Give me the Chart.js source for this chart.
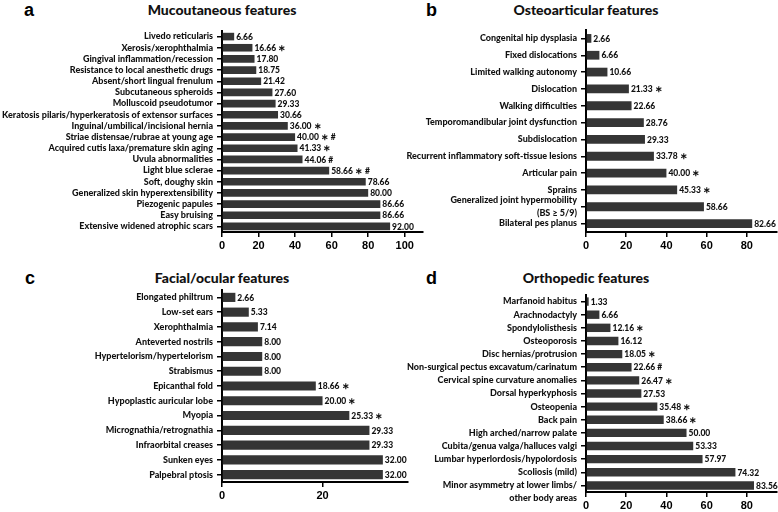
<!DOCTYPE html>
<html>
<head>
<meta charset="utf-8">
<script src="https://cdn.jsdelivr.net/npm/chart.js@4/dist/chart.umd.min.js"></script>
<style>
  body { margin: 0; background: #fff; width: 778px; height: 512px; position: relative; overflow: hidden; }
  canvas { position: absolute; }
  .letter { position: absolute; font: bold 18px "Liberation Sans", Arial, sans-serif; color: #000; line-height: 20px; }
  .title { position: absolute; font: 900 14px Lato, "Liberation Sans", Arial, sans-serif; color: #111; line-height: 16px; text-align: center; width: 240px; }
</style>
</head>
<body>
<div class="letter" style="left:24px;top:0px">a</div>
<div class="title" style="left:102px;top:2px">Mucoutaneous features</div>
<div class="letter" style="left:426px;top:0px">b</div>
<div class="title" style="left:466px;top:2px">Osteoarticular features</div>
<div class="letter" style="left:25px;top:268px">c</div>
<div class="title" style="left:102px;top:270px">Facial/ocular features</div>
<div class="letter" style="left:426px;top:268px">d</div>
<div class="title" style="left:466px;top:270px">Orthopedic features</div>

<canvas id="chartA" width="430" height="256" style="left:0;top:0"></canvas>
<canvas id="chartB" width="388" height="256" style="left:390px;top:0"></canvas>
<canvas id="chartC" width="430" height="256" style="left:0;top:256px"></canvas>
<canvas id="chartD" width="388" height="256" style="left:390px;top:256px"></canvas>

<script>
// a - Mucoutaneous features
var mucoLabels = ["Livedo reticularis", "Xerosis/xerophthalmia", "Gingival inflammation/recession",
  "Resistance to local anesthetic drugs", "Absent/short lingual frenulum", "Subcutaneous spheroids",
  "Molluscoid pseudotumor", "Keratosis pilaris/hyperkeratosis of extensor surfaces",
  "Inguinal/umbilical/incisional hernia", "Striae distensae/rubrae at young age",
  "Acquired cutis laxa/premature skin aging", "Uvula abnormalities", "Light blue sclerae",
  "Soft, doughy skin", "Generalized skin hyperextensibility", "Piezogenic papules", "Easy bruising",
  "Extensive widened atrophic scars"];
var mucoValues = [6.66, 16.66, 17.80, 18.75, 21.42, 27.60, 29.33, 30.66, 36.00, 40.00, 41.33, 44.06, 58.66, 78.66, 80.00, 86.66, 86.66, 92.00];
var mucoMarks = ["", "∗", "", "", "", "", "", "", "∗", "∗ #", "∗", "#", "∗ #", "", "", "", "", ""];

// b - Osteoarticular features
var osteoLabels = ["Congenital hip dysplasia", "Fixed dislocations", "Limited walking autonomy", "Dislocation",
  "Walking difficulties", "Temporomandibular joint dysfunction", "Subdislocation",
  "Recurrent inflammatory soft-tissue lesions", "Articular pain", "Sprains",
  ["Generalized joint hypermobility", "(BS ≥ 5/9)"], "Bilateral pes planus"];
var osteoValues = [2.66, 6.66, 10.66, 21.33, 22.66, 28.76, 29.33, 33.78, 40.00, 45.33, 58.66, 82.66];
var osteoMarks = ["", "", "", "∗", "", "", "", "∗", "∗", "∗", "", ""];

// c - Facial/ocular features
var facialLabels = ["Elongated philtrum", "Low-set ears", "Xerophthalmia", "Anteverted nostrils",
  "Hypertelorism/hypertelorism", "Strabismus", "Epicanthal fold", "Hypoplastic auricular lobe", "Myopia",
  "Micrognathia/retrognathia", "Infraorbital creases", "Sunken eyes", "Palpebral ptosis"];
var facialValues = [2.66, 5.33, 7.14, 8.00, 8.00, 8.00, 18.66, 20.00, 25.33, 29.33, 29.33, 32.00, 32.00];
var facialMarks = ["", "", "", "", "", "", "∗", "∗", "∗", "", "", "", ""];

// d - Orthopedic features
var orthoLabels = ["Marfanoid habitus", "Arachnodactyly", "Spondylolisthesis", "Osteoporosis",
  "Disc hernias/protrusion", "Non-surgical pectus excavatum/carinatum", "Cervical spine curvature anomalies",
  "Dorsal hyperkyphosis", "Osteopenia", "Back pain", "High arched/narrow palate",
  "Cubita/genua valga/halluces valgi", "Lumbar hyperlordosis/hypolordosis", "Scoliosis (mild)",
  ["", "Minor asymmetry at lower limbs/", "other body areas"]];
var orthoValues = [1.33, 6.66, 12.16, 16.12, 18.05, 22.66, 26.47, 27.53, 35.48, 38.66, 50.00, 53.33, 57.97, 74.32, 83.56];
var orthoMarks = ["", "", "∗", "", "∗", "#", "∗", "", "∗", "∗", "", "", "", "", ""];

var labelFont = "Lato, 'Liberation Sans', Arial, sans-serif";

var valueLabels = {
  id: 'valueLabels',
  afterDatasetsDraw: function(chart) {
    var ctx = chart.ctx;
    var meta = chart.getDatasetMeta(0);
    var vals = chart.data.datasets[0].data;
    var marks = chart.options.plugins.valueLabels.marks;
    ctx.save();
    ctx.font = "900 8.5px " + labelFont;
    ctx.fillStyle = "#111";
    ctx.textBaseline = "middle";
    ctx.textAlign = "left";
    meta.data.forEach(function(bar, i) {
      var txt = vals[i].toFixed(2) + (marks[i] ? " " + marks[i] : "");
      ctx.fillText(txt, bar.x + 2, bar.y + 0.5);
    });
    ctx.restore();
  }
};

function makeChart(id, labels, values, marks, opt) {
  var ctx = document.getElementById(id).getContext('2d');
  return new Chart(ctx, {
    type: 'bar',
    data: {
      labels: labels,
      datasets: [{
        data: values,
        backgroundColor: "#353535",
        borderWidth: 0,
        barPercentage: opt.bar,
        categoryPercentage: 1
      }]
    },
    options: {
      indexAxis: 'y',
      responsive: false,
      animation: false,
      layout: { padding: { top: opt.top, right: opt.right, left: 0, bottom: 0 } },
      plugins: {
        legend: { display: false },
        tooltip: { enabled: false },
        valueLabels: { marks: marks }
      },
      scales: {
        x: {
          min: 0,
          max: opt.max,
          afterFit: function(s) { s.height = opt.xh; },
          border: { color: "#000", width: 2 },
          grid: { drawOnChartArea: false, drawTicks: true, tickLength: 5, color: "#000", lineWidth: 1.5 },
          ticks: { stepSize: opt.step, includeBounds: false, color: "#000", padding: 2,
                   font: { family: "'Liberation Sans', Arial, sans-serif", size: 11, weight: 'bold' } }
        },
        y: {
          afterFit: function(s) { s.width = opt.yw; },
          border: { color: "#000", width: 2 },
          grid: { offset: false, drawOnChartArea: false, drawTicks: true, tickLength: 5, color: "#000", lineWidth: 1.5 },
          ticks: { color: "#111", padding: 4, autoSkip: false,
                   font: { family: labelFont, size: 9, weight: 900, lineHeight: 1.4 } }
        }
      }
    },
    plugins: [valueLabels]
  });
}

makeChart("chartA", mucoLabels, mucoValues, mucoMarks, { top: 31, right: 7, xh: 24, yw: 222, max: 110, step: 20, bar: 0.68 });
makeChart("chartB", osteoLabels, osteoValues, osteoMarks, { top: 30, right: 1, xh: 24, yw: 196, max: 95, step: 20, bar: 0.52 });
makeChart("chartC", facialLabels, facialValues, facialMarks, { top: 34, right: 22, xh: 30, yw: 222, max: 37, step: 20, bar: 0.62 });
makeChart("chartD", orthoLabels, orthoValues, orthoMarks, { top: 39, right: 1, xh: 20, yw: 196, max: 95, step: 20, bar: 0.64 });
</script>
</body>
</html>
